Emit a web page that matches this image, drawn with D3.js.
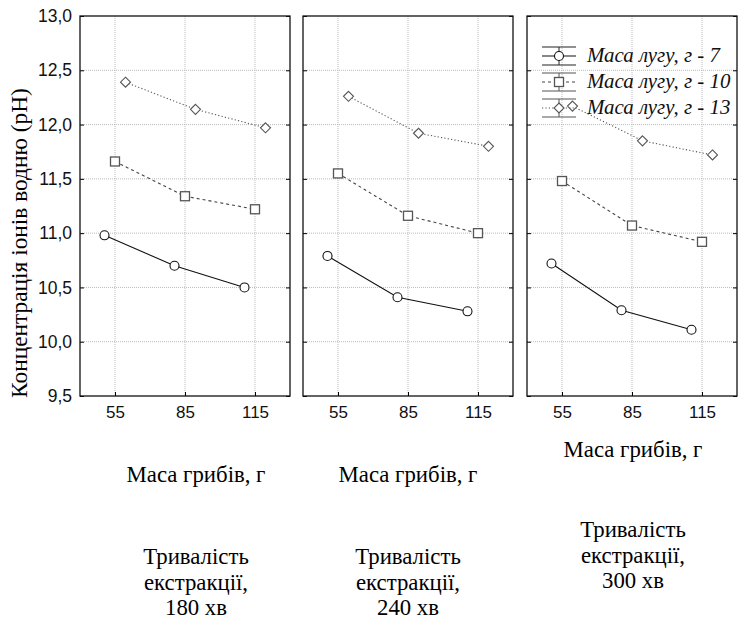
<!DOCTYPE html>
<html>
<head>
<meta charset="utf-8">
<script src="https://cdn.jsdelivr.net/npm/d3@7"></script>
<style>
  body { margin: 0; background: #fff; }
  svg { display: block; }
</style>
</head>
<body>
<svg id="chart"></svg>
<script>
// data
const masses = [55, 85, 115];
const durations = ["180 хв", "240 хв", "300 хв"];
const seriesNames = ["Маса лугу, г - 7", "Маса лугу, г - 10", "Маса лугу, г - 13"];
const ph7  = [[10.98, 10.70, 10.50], [10.79, 10.41, 10.28], [10.72, 10.29, 10.11]];
const ph10 = [[11.66, 11.34, 11.22], [11.55, 11.16, 11.00], [11.48, 11.07, 10.92]];
const ph13 = [[12.39, 12.14, 11.97], [12.26, 11.92, 11.80], [12.17, 11.85, 11.72]];
const yTicks = [9.5, 10, 10.5, 11, 11.5, 12, 12.5, 13];

const allSeries = [ph7, ph10, ph13];

const W = 738, H = 620;
const plotTop = 16, plotBottom = 396;
const panelLeft = [80, 303, 527];
const panelW = 210;

const svg = d3.select("#chart").attr("width", W).attr("height", H);

const y = d3.scaleLinear().domain([9.5, 13]).range([plotBottom, plotTop]);
const fmt = v => d3.format(".1f")(v).replace(".", ",");

// small horizontal shift so the three series don't overlap (in x units)
const jitter = d3.scaleOrdinal().domain([0, 1, 2]).range([-4.5, 0, 4.5]);

const sans = "'Liberation Sans', Arial, sans-serif";
const serif = "'Liberation Serif', 'Times New Roman', serif";

// shrink/grow a text so it takes the width seen in the picture
function fitWidth(sel, target) {
  const fs = parseFloat(sel.style("font-size"));
  const w = sel.node().getComputedTextLength();
  const size = fs * target / w;
  sel.style("font-size", size + "px");
  return size;
}

const styles = [
  {dash: null, stroke: "#111", mark: "circle", mstroke: "#111"},
  {dash: "3,3", stroke: "#444", mark: "square", mstroke: "#555"},
  {dash: "1.2,2.2", stroke: "#555", mark: "diamond", mstroke: "#555"}
];

function drawMark(g, kind, cx, cy, stroke) {
  if (kind === "circle") {
    g.append("circle").attr("cx", cx).attr("cy", cy).attr("r", 4.5)
      .attr("fill", "#fff").attr("stroke", stroke).attr("stroke-width", 1.1);
  } else if (kind === "square") {
    g.append("rect").attr("x", cx - 4.5).attr("y", cy - 4.5).attr("width", 9).attr("height", 9)
      .attr("fill", "#fff").attr("stroke", stroke).attr("stroke-width", 1.3);
  } else {
    g.append("path").attr("d", `M${cx},${cy - 5}L${cx + 5},${cy}L${cx},${cy + 5}L${cx - 5},${cy}Z`)
      .attr("fill", "#fff").attr("stroke", stroke).attr("stroke-width", 1.1);
  }
}

durations.forEach((dur, p) => {
  const x0 = panelLeft[p];
  const x = d3.scaleLinear().domain([40, 130]).range([x0, x0 + panelW]);
  const g = svg.append("g");

  // grid
  g.selectAll(".hg").data(yTicks.slice(1, -1)).join("line")
    .attr("x1", x0).attr("x2", x0 + panelW)
    .attr("y1", d => y(d)).attr("y2", d => y(d))
    .attr("stroke", "#bbb").attr("stroke-dasharray", "1,1");
  g.selectAll(".vg").data(masses).join("line")
    .attr("x1", d => x(d)).attr("x2", d => x(d))
    .attr("y1", plotTop).attr("y2", plotBottom)
    .attr("stroke", "#bbb").attr("stroke-dasharray", "1,1");

  // inward ticks on both sides and bottom
  const left = g.append("g").attr("transform", `translate(${x0},0)`)
    .call(d3.axisLeft(y).tickValues(yTicks).tickSize(-4).tickSizeOuter(0).tickPadding(8).tickFormat(fmt));
  left.select(".domain").remove();
  left.selectAll("text").style("font-family", sans).style("font-size", "17.5px").attr("fill", "#111");
  if (p > 0) left.selectAll("text").remove();

  const right = g.append("g").attr("transform", `translate(${x0 + panelW},0)`)
    .call(d3.axisRight(y).tickValues(yTicks).tickSize(-4).tickSizeOuter(0).tickFormat(""));
  right.select(".domain").remove();

  const xa = g.append("g").attr("transform", `translate(0,${plotBottom})`)
    .call(d3.axisBottom(x).tickValues(masses).tickSize(-4).tickSizeOuter(0).tickPadding(10));
  xa.select(".domain").remove();
  xa.selectAll("text").style("font-family", sans).style("font-size", "17px").attr("fill", "#111");

  // frame
  g.append("rect").attr("x", x0).attr("y", plotTop).attr("width", panelW).attr("height", plotBottom - plotTop)
    .attr("fill", "none").attr("stroke", "#111").attr("stroke-width", 1.3);

  // series
  allSeries.forEach((s, i) => {
    const pts = s[p].map((v, j) => [x(masses[j] + jitter(i)), y(v)]);
    g.append("path").attr("d", d3.line()(pts)).attr("fill", "none")
      .attr("stroke", styles[i].stroke).attr("stroke-width", 1.1)
      .attr("stroke-dasharray", styles[i].dash);
    pts.forEach(pt => drawMark(g, styles[i].mark, pt[0], pt[1], styles[i].mstroke));
  });
});

// bottom labels
const labelCx = [196, 408, 633];
const labelY = [[482, 564], [482, 564], [457, 537]];
let labelSize = 18;
durations.forEach((dur, p) => {
  const t0 = svg.append("text").attr("x", labelCx[p]).attr("y", labelY[p][0])
    .attr("text-anchor", "middle").style("font-family", serif).style("font-size", "18px")
    .text("Маса грибів, г");
  if (p === 0) labelSize = fitWidth(t0, 139);
  else t0.style("font-size", labelSize + "px");
  ["Тривалість", "екстракції,", dur].forEach((t, k) => {
    svg.append("text").attr("x", labelCx[p]).attr("y", labelY[p][1] + k * 25.5)
      .attr("text-anchor", "middle").style("font-family", serif).style("font-size", labelSize + "px")
      .text(t);
  });
});

// y axis title
const yTitle = svg.append("text")
  .attr("transform", "translate(27,243) rotate(-90)")
  .attr("text-anchor", "middle").style("font-family", serif).style("font-size", "19px")
  .text("Концентрація іонів водню (pH)");
fitWidth(yTitle, 310);

// legend
const leg = svg.append("g");
const legY = [56, 82, 108];
let legSize = 19;
seriesNames.forEach((name, i) => {
  const cy = legY[i];
  const st = styles[i];
  const c = i === 0 ? "#222" : "#555";
  leg.append("line").attr("x1", 542).attr("x2", 576).attr("y1", cy - 9).attr("y2", cy - 9).attr("stroke", c).attr("stroke-width", 1.2);
  leg.append("line").attr("x1", 542).attr("x2", 576).attr("y1", cy + 9).attr("y2", cy + 9).attr("stroke", c).attr("stroke-width", 1.2);
  leg.append("line").attr("x1", 559).attr("x2", 559).attr("y1", cy - 9).attr("y2", cy + 9).attr("stroke", c).attr("stroke-width", 1);
  leg.append("line").attr("x1", 542).attr("x2", 576).attr("y1", cy).attr("y2", cy)
    .attr("stroke", st.stroke).attr("stroke-width", 1.1).attr("stroke-dasharray", st.dash);
  drawMark(leg, st.mark, 559, cy, st.mstroke);
  const t = leg.append("text").attr("x", 587).attr("y", cy + 6)
    .style("font-family", serif).style("font-style", "italic").style("font-size", "19px")
    .attr("fill", "#111").text(name);
  if (i === 0) legSize = fitWidth(t, 133);
  else t.style("font-size", legSize + "px");
});
</script>
</body>
</html>
